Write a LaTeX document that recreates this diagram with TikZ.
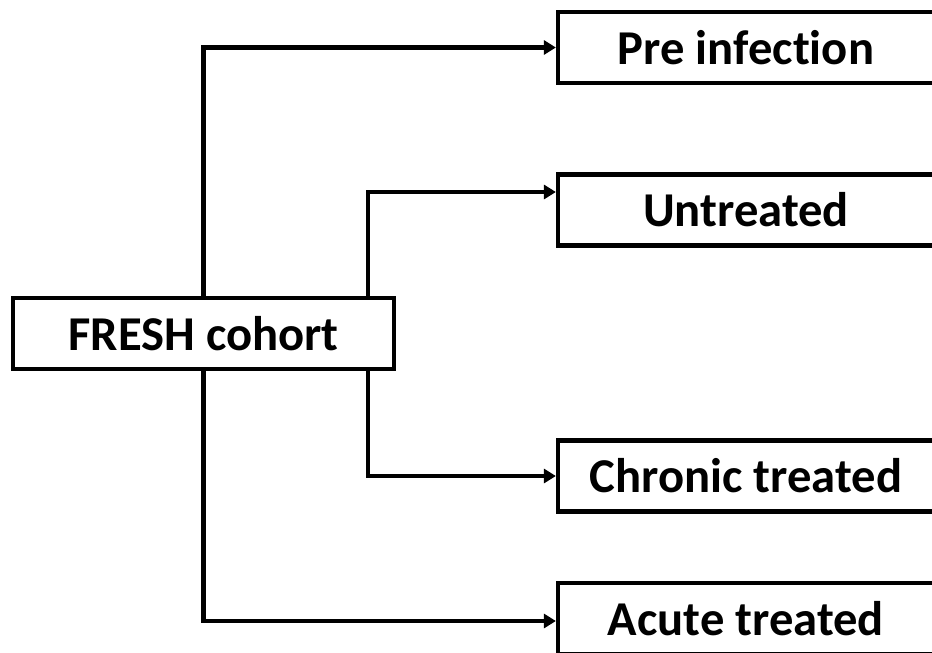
\documentclass[tikz,border=0pt]{standalone}
\usepackage{fontspec}
\setmainfont{Carlito}[Ligatures=NoCommon]
\usetikzlibrary{arrows.meta}
\begin{document}
\begin{tikzpicture}[
		box/.style={draw,line width=3.6pt,minimum height=2.13cm,inner sep=0pt,
			font=\fontsize{41.5}{48}\selectfont\bfseries},
		group/.style={box,minimum width=11.28cm},
		link/.style={line width=3.6pt,-{Triangle[length=0.36cm,width=0.42cm]}}
	]
	\useasboundingbox (0,0) rectangle (27.96,-19.56);
	\clip (0,0) rectangle (27.96,-19.56);
	\node[box,minimum width=11.43cm] (fresh) at (6.105,-10.005) {FRESH cohort};
	\node[group] (pre) at (22.38,-1.425) {Pre infection};
	\node[group] (untreated) at (22.38,-6.3) {Untreated};
	\node[group] (chronic) at (22.38,-14.28) {Chronic treated};
	\node[group] (acute) at (22.38,-18.555) {Acute treated};
	\draw[link] (fresh.north) |- (pre.west);
	\draw[link] (fresh.south) |- ([yshift=-0.075cm]acute.west);
	\draw[link] ([xshift=-0.84cm]fresh.north east) |- ([yshift=0.54cm]untreated.west);
	\draw[link] ([xshift=-0.84cm]fresh.south east) |- (chronic.west);
\end{tikzpicture}
\end{document}
